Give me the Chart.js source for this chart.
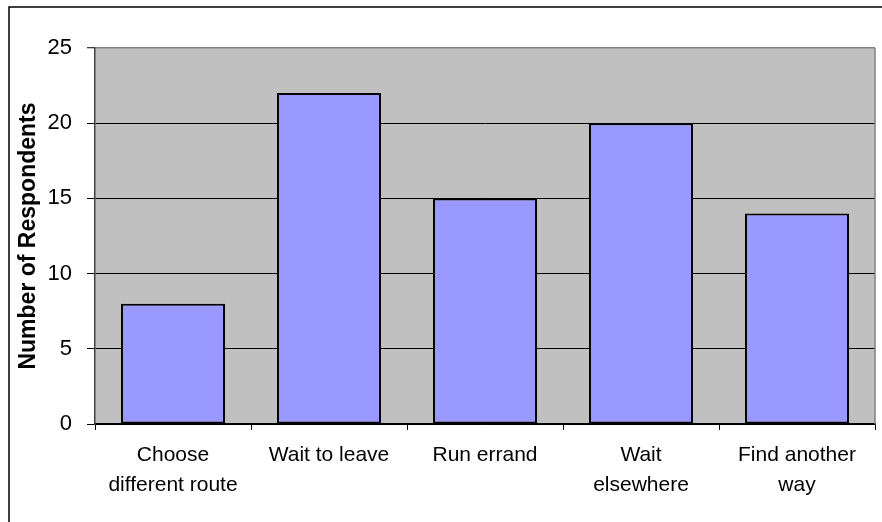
<!DOCTYPE html>
<html>
<head>
<meta charset="utf-8">
<script src="https://cdn.jsdelivr.net/npm/chart.js@4/dist/chart.umd.min.js"></script>
<style>
  html, body { margin: 0; padding: 0; background: #fff; }
  #wrap { width: 882px; height: 522px; }
</style>
</head>
<body>
<div id="wrap"><canvas id="c" width="882" height="522"></canvas></div>
<script>
// Responses to the survey question
const categories = [["Choose", "different route"], "Wait to leave", "Run errand", ["Wait", "elsewhere"], ["Find another", "way"]];
const respondents = [8, 22, 15, 20, 14];
const yTicks = [0, 5, 10, 15, 20, 25];
const yTitle = "Number of Respondents";

Chart.defaults.font.family = "'Liberation Sans', Arial, sans-serif";
Chart.defaults.color = "#000";

// White page with a thin outer frame, grey plot area and grey plot edge
const framePlugin = {
  id: "frame",
  beforeDraw(chart) {
    const { ctx, chartArea: a } = chart;
    ctx.save();
    ctx.fillStyle = "#fff";
    ctx.fillRect(0, 0, chart.width, chart.height);
    ctx.strokeStyle = "#000";
    ctx.lineWidth = 1.5;
    ctx.strokeRect(9, 7, chart.width + 40, chart.height + 40);
    ctx.fillStyle = "#C0C0C0";
    ctx.fillRect(a.left, a.top, a.right - a.left, a.bottom - a.top);
    ctx.restore();
  },
  afterDatasetsDraw(chart) {
    const { ctx, chartArea: a } = chart;
    ctx.save();
    ctx.strokeStyle = "#808080";
    ctx.lineWidth = 1.5;
    ctx.beginPath();
    ctx.moveTo(a.right, a.top);
    ctx.lineTo(a.right, a.bottom);
    ctx.stroke();
    ctx.restore();
  }
};

new Chart(document.getElementById("c"), {
  type: "bar",
  data: {
    labels: categories,
    datasets: [{
      data: respondents,
      backgroundColor: "#9999FF",
      borderColor: "#000",
      borderWidth: 2,
      borderSkipped: false,
      barPercentage: 0.667,
      categoryPercentage: 1.0
    }]
  },
  options: {
    responsive: false,
    animation: false,
    devicePixelRatio: 1,
    layout: { padding: { top: 48, left: 0, right: 7, bottom: 0 } },
    plugins: { legend: { display: false }, tooltip: { enabled: false } },
    scales: {
      x: {
        grid: {
          offset: true,
          drawOnChartArea: false,
          drawTicks: true,
          tickLength: 6,
          tickColor: "#000",
          lineWidth: 1
        },
        border: { color: "#000", width: 1.5 },
        ticks: {
          autoSkip: false,
          maxRotation: 0,
          minRotation: 0,
          padding: 10,
          color: "#000",
          font: { size: 21, lineHeight: 1.43 }
        },
        afterFit(scale) { scale.height = 98; }
      },
      y: {
        min: 0,
        max: 25,
        afterBuildTicks(scale) { scale.ticks = yTicks.map(v => ({ value: v })); },
        grid: {
          color: ctx => (ctx.tick && ctx.tick.value === 25 ? "#808080" : "#000"),
          lineWidth: ctx => (ctx.tick && ctx.tick.value === 25 ? 1.5 : 1),
          drawTicks: true,
          tickLength: 8,
          tickColor: "#000",
          tickWidth: 1
        },
        border: { color: "#404040", width: 1.5 },
        ticks: {
          padding: 15,
          color: "#000",
          font: { size: 22 }
        },
        title: {
          display: true,
          text: yTitle,
          color: "#000",
          font: { size: 23, weight: "bold" },
          padding: { top: 15, bottom: 0 }
        },
        afterFit(scale) { scale.width = 95; }
      }
    }
  },
  plugins: [framePlugin]
});
</script>
</body>
</html>
